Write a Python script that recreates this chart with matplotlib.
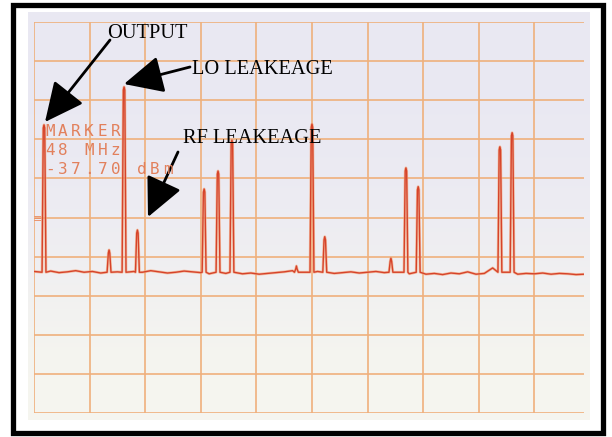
import numpy as np
import matplotlib.pyplot as plt
import matplotlib.patches as mpatches

# --- data (MHz, dBm) ---
start_mhz = 30
mhz_per_div = 100
ref_level = -10
db_per_div = 10

floor_step = 15
floor_dbm = [-73.8, -74.0, -73.7, -74.1, -73.9, -73.6, -74.0, -73.8, -74.2, -73.7,
             -73.9, -74.1, -73.8, -74.0, -73.6, -73.9, -74.2, -74.0, -73.7, -73.9,
             -74.1, -74.4, -74.5, -74.3, -74.6, -74.4, -74.2, -74.5, -74.3, -74.1,
             -73.9, -73.6, -74.0, -74.2, -73.8, -74.0, -74.3, -74.1, -73.9, -74.2,
             -74.0, -73.8, -74.1, -74.3, -74.0, -74.4, -74.2, -74.5, -74.3, -74.6,
             -74.2, -74.4, -73.9, -74.5, -74.3, -72.9, -74.4, -72.8, -74.5, -74.3,
             -74.4, -74.2, -74.5, -74.3, -74.4, -74.6, -74.5]

peak_mhz = [48, 165, 192, 216, 336, 361, 386, 502, 530, 553, 672, 699, 721, 868, 890]
peak_dbm = [-36.3, -68.3, -26.6, -63.2, -52.7, -48.1, -40.2, -72.4, -36.1, -64.9,
            -70.4, -47.3, -52.1, -41.9, -38.3]
peak_base = -74.0

marker_lines = ["MARKER", "48 MHz", "-37.70 dBm"]

# --- build the trace ---
floor_f = [start_mhz + i * floor_step for i in range(len(floor_dbm))]
pts = []
for f, v in zip(floor_f, floor_dbm):
    if all(abs(f - p) > 5 for p in peak_mhz):
        pts.append((f, v))
for p, top in zip(peak_mhz, peak_dbm):
    pts += [(p - 3.5, peak_base), (p - 1.3, top - 0.8), (p, top),
            (p + 1.3, top - 0.8), (p + 3.5, peak_base)]
pts.sort()
tf = [a for a, b in pts]
tv = [b for a, b in pts]

W, H = 612, 437
fig = plt.figure(figsize=(W / 100, H / 100), dpi=100)
fig.patch.set_facecolor('white')


def fx(x):
    return x / W


def fy(y):
    return 1 - y / H


# photo background (slight lavender to cream gradient)
bg = fig.add_axes([fx(28), fy(420), fx(590) - fx(28), fy(12) - fy(420)])
grad = np.array([[[233, 232, 242]], [[236, 235, 243]], [[246, 246, 239]]]) / 255
bg.imshow(grad, aspect='auto', extent=[0, 1, 0, 1], interpolation='bicubic')
bg.axis('off')

# screen graticule
ax = fig.add_axes([fx(34), fy(413), 550.4 / W, 391 / H])
ax.set_facecolor('none')
ax.set_xlim(start_mhz, start_mhz + 9.9 * mhz_per_div)
ax.set_ylim(ref_level - 10 * db_per_div, ref_level)
ax.set_xticks(np.arange(start_mhz, start_mhz + 10 * mhz_per_div, mhz_per_div))
ax.set_yticks(np.arange(ref_level - 10 * db_per_div, ref_level + 1, db_per_div))
ax.grid(True, color='#efb07c', lw=1.2)
ax.set_axisbelow(True)
ax.tick_params(length=0, labelbottom=False, labelleft=False)
for s in ax.spines.values():
    s.set_visible(False)

ax.plot(tf, tv, color='#f4aa82', lw=2.0, alpha=0.7, solid_joinstyle='round')
ax.plot(tf, tv, color='#d6432a', lw=1.0, solid_joinstyle='round')

# marker readout, typewriter spacing
for row, line in enumerate(marker_lines):
    for i, ch in enumerate(line):
        fig.text(fx(45 + i * 13.1), fy(135.5 + row * 19.2), ch, color='#e2805c',
                 family='DejaVu Sans Mono', fontsize=11.5, ha='left', va='baseline')
fig.text(fx(33), fy(222), '\u2261', color='#e8906a', fontsize=8, ha='left', va='baseline')

# labels and arrows
lab = dict(family='Liberation Serif', fontsize=14.7, color='black', ha='left', va='baseline')
fig.text(fx(107), fy(38.5), 'OUTPUT', **lab)
fig.text(fx(192), fy(74), 'LO LEAKEAGE', **lab)
fig.text(fx(183), fy(143), 'RF LEAKEAGE', **lab)

arrows = [((110, 40), (45, 122)), ((190, 67), (124, 84)), ((178, 152), (148, 217))]
for (x0, y0), (x1, y1) in arrows:
    fig.add_artist(mpatches.FancyArrowPatch(
        (fx(x0), fy(y0)), (fx(x1), fy(y1)), transform=fig.transFigure,
        arrowstyle='-|>,head_length=1.15,head_width=0.55', mutation_scale=21,
        lw=2.0, color='black', shrinkA=0, shrinkB=0))

# black frame
fig.add_artist(mpatches.Rectangle((fx(12.5), fy(432.5)), fx(602.5) - fx(12.5),
                                  fy(4.5) - fy(432.5), transform=fig.transFigure,
                                  fill=False, ec='black', lw=3.8))

fig.savefig('out.png', dpi=100, facecolor='white')
